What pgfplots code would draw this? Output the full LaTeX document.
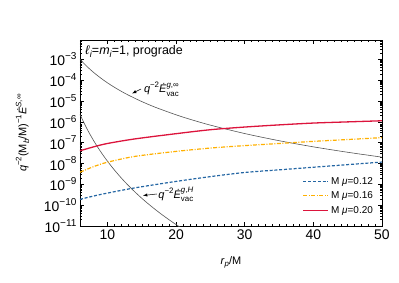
\documentclass[border=0pt]{standalone}
\usepackage{fontspec}
\setmainfont{Liberation Sans}
\usepackage{graphicx}
\usepackage{pgfplots}
\pgfplotsset{compat=1.18}
\definecolor{cblue}{HTML}{2466A3}
\definecolor{corange}{HTML}{FFB000}
\definecolor{cred}{HTML}{DC143C}
\definecolor{cgray}{HTML}{555555}
\newcommand\sups[1]{\raisebox{0.45em}{\scalebox{0.72}{#1}}}
\newcommand\subs[1]{\raisebox{-0.25em}{\scalebox{0.72}{#1}}}
\newcommand\supsub[2]{\makebox[0pt][l]{\raisebox{0.5em}{\scalebox{0.72}{#1}}}\raisebox{-0.3em}{\scalebox{0.72}{#2}}}
\newcommand\tl[1]{10\sups{−#1}}

\pgfplotstableread{
r E
6 1.00e-3
7 4.56e-4
8 2.31e-4
9 1.27e-4
10 7.39e-5
11 4.55e-5
12 2.92e-5
13 1.94e-5
15 9.35e-6
17 4.94e-6
20 2.16e-6
22 1.33e-6
25 6.91e-7
30 2.73e-7
35 1.24e-7
40 6.28e-8
45 3.45e-8
50 2.01e-8
}\vacinf

\pgfplotstableread{
r E
6 2.24e-6
7 4.72e-7
8 1.225e-7
9 3.73e-8
10 1.29e-8
11 4.92e-9
12 2.04e-9
13 9.10e-10
14 4.31e-10
15 2.14e-10
16 1.12e-10
17 6.07e-11
18 3.40e-11
19 1.97e-11
20 1.17e-11
21 7.2e-12
}\vacH

\pgfplotstableread{
r E
6 1.9e-10
8 2.75e-10
10 3.8e-10
14 6.76e-10
20 1.38e-9
25 2.34e-9
30 3.7e-9
35 4.95e-9
40 6.6e-9
45 8.8e-9
50 1.17e-8
}\muA

\pgfplotstableread{
r E
6 3.8e-9
8 7.1e-9
10 1.15e-8
14 2.19e-8
20 3.8e-8
25 5.5e-8
30 7.2e-8
35 9.1e-8
40 1.15e-7
45 1.41e-7
50 1.74e-7
}\muB

\pgfplotstableread{
r E
6 4.07e-8
8 6.3e-8
10 9.1e-8
14 1.51e-7
20 2.69e-7
25 4.17e-7
30 5.6e-7
35 7.1e-7
40 8.7e-7
45 9.9e-7
50 1.12e-6
}\muC

\begin{document}
\begin{tikzpicture}
\useasboundingbox (-80bp,-57bp) rectangle (319bp,226bp);
\begin{axis}[
  at={(0,0)}, anchor=south west,
  scale only axis, width=302bp, height=186bp,
  ymode=log,
  xmin=6, xmax=50, ymin=1e-11, ymax=8.4e-3,
  xtick={10,20,30,40,50},
  minor x tick num=9,
  ytick={1e-11,1e-10,1e-9,1e-8,1e-7,1e-6,1e-5,1e-4,1e-3},
  yticklabels={\tl{11},\tl{10},\tl{9},\tl{8},\tl{7},\tl{6},\tl{5},\tl{4},\tl{3}},
  minor ytick={2e-11,3e-11,4e-11,5e-11,6e-11,7e-11,8e-11,9e-11,
    2e-10,3e-10,4e-10,5e-10,6e-10,7e-10,8e-10,9e-10,
    2e-9,3e-9,4e-9,5e-9,6e-9,7e-9,8e-9,9e-9,
    2e-8,3e-8,4e-8,5e-8,6e-8,7e-8,8e-8,9e-8,
    2e-7,3e-7,4e-7,5e-7,6e-7,7e-7,8e-7,9e-7,
    2e-6,3e-6,4e-6,5e-6,6e-6,7e-6,8e-6,9e-6,
    2e-5,3e-5,4e-5,5e-5,6e-5,7e-5,8e-5,9e-5,
    2e-4,3e-4,4e-4,5e-4,6e-4,7e-4,8e-4,9e-4,
    2e-3,3e-3,4e-3,5e-3,6e-3,7e-3,8e-3},
  major tick length=4bp, minor tick length=2.2bp,
  tick style={black, line width=0.5bp},
  axis line style={line width=0.8bp},
  /pgf/number format/assume math mode=true,
  tick label style={font=\fontsize{14}{15}\selectfont},
  label style={font=\fontsize{11}{13}\selectfont},
  xlabel={\textit{r}\subs{\textit{p}}/M},
  ylabel={\textit{q}\sups{−2}(M\subs{\textit{b}}/M)\sups{−1}\textit{Ė}\sups{\textit{S},∞}},
  xlabel style={at={(axis description cs:0.5,-0.195)}, anchor=center},
  ylabel style={at={(axis description cs:-0.19,0.5)}, anchor=center},
  legend image code/.code={\draw[#1] (0bp,0bp) -- (25bp,0bp);},
  legend cell align=left,
  legend style={draw=none, fill=none, at={(axis description cs:0.977,0.05)}, anchor=south east,
    font=\fontsize{10}{11}\selectfont, row sep=2bp, inner sep=0pt,
    /tikz/every even column/.append style={column sep=4bp}},
]
\addplot[cgray, line width=0.6bp, smooth, forget plot] table[x=r,y=E]{\vacinf};
\addplot[cgray, line width=0.6bp, smooth, forget plot] table[x=r,y=E]{\vacH};
\addplot[cblue, line width=1.2bp, dash pattern=on 3bp off 1.8bp, smooth] table[x=r,y=E]{\muA};
\addlegendentry{M \textit{μ}=0.12}
\addplot[corange, line width=1.2bp, dash pattern=on 4bp off 1.5bp on 1bp off 1.5bp, smooth] table[x=r,y=E]{\muB};
\addlegendentry{M \textit{μ}=0.16}
\addplot[cred, line width=1.3bp, smooth] table[x=r,y=E]{\muC};
\addlegendentry{M \textit{μ}=0.20}
\node[anchor=north west, inner sep=0pt, font=\fontsize{12.5}{13}\selectfont] at (axis description cs:0.017,0.973) {\textit{ℓ}\subs{\textit{i}}=\textit{m}\subs{\textit{i}}=1, prograde};
\draw[-latex, line width=0.5bp] (axis cs:14.89,3.75e-5) -- (axis cs:13.58,2.28e-5);
\node[anchor=west, inner sep=0pt, font=\fontsize{11}{12}\selectfont] at (axis cs:15.3,3.6e-5) {\textit{q}\sups{−2}\textit{Ė}\supsub{\textit{g},∞}{vac}};
\draw[-latex, line width=0.5bp] (axis cs:17.22,3.44e-10) -- (axis cs:15.18,2.91e-10);
\node[anchor=west, inner sep=0pt, font=\fontsize{11}{12}\selectfont] at (axis cs:17.4,3.24e-10) {\textit{q}\sups{−2}\textit{Ė}\supsub{\textit{g},\textit{H}}{vac}};
\end{axis}
\end{tikzpicture}
\end{document}
